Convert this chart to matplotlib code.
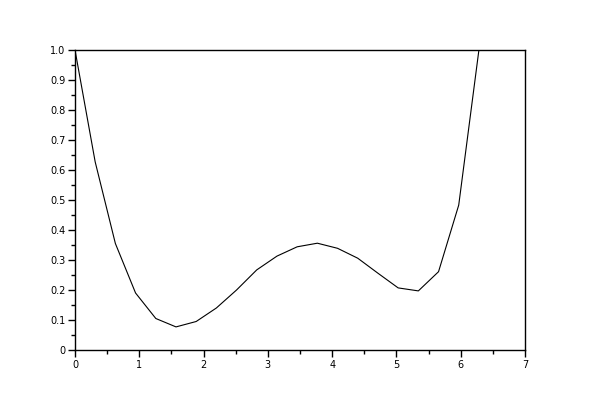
import numpy as np
import matplotlib
matplotlib.use("Agg")
import matplotlib.pyplot as plt
from matplotlib.ticker import MultipleLocator

# samples, x = k*pi/10
x = [0.0, 0.314, 0.628, 0.942, 1.257, 1.571, 1.885, 2.199, 2.513, 2.827, 3.142,
     3.456, 3.770, 4.084, 4.398, 4.712, 5.027, 5.341, 5.655, 5.969, 6.283]
y = [1.0, 0.627, 0.355, 0.19, 0.105, 0.077, 0.095, 0.14, 0.2, 0.267, 0.313,
     0.344, 0.356, 0.339, 0.306, 0.256, 0.207, 0.197, 0.261, 0.483, 1.0]

fig = plt.figure(figsize=(6, 4), dpi=100)
ax = fig.add_axes([0.125, 0.125, 0.75, 0.75])
ax.plot(x, y, color="black", linewidth=0.8)

ax.set_xlim(0, 7)
ax.set_ylim(0, 1)
ax.xaxis.set_major_locator(MultipleLocator(1))
ax.xaxis.set_minor_locator(MultipleLocator(0.5))
ax.yaxis.set_major_locator(MultipleLocator(0.1))
ax.yaxis.set_minor_locator(MultipleLocator(0.05))
ax.set_yticks(np.arange(0, 1.01, 0.1))
ax.set_yticklabels(["0"] + [f"{v:.1f}" for v in np.arange(0.1, 1.01, 0.1)])
ax.tick_params(which="both", direction="out", color="black", width=1,
               labelsize=7, pad=2)
ax.tick_params(which="major", length=5)
ax.tick_params(which="minor", length=3)
for s in ax.spines.values():
    s.set_linewidth(1)

fig.savefig("out.png", dpi=100)
